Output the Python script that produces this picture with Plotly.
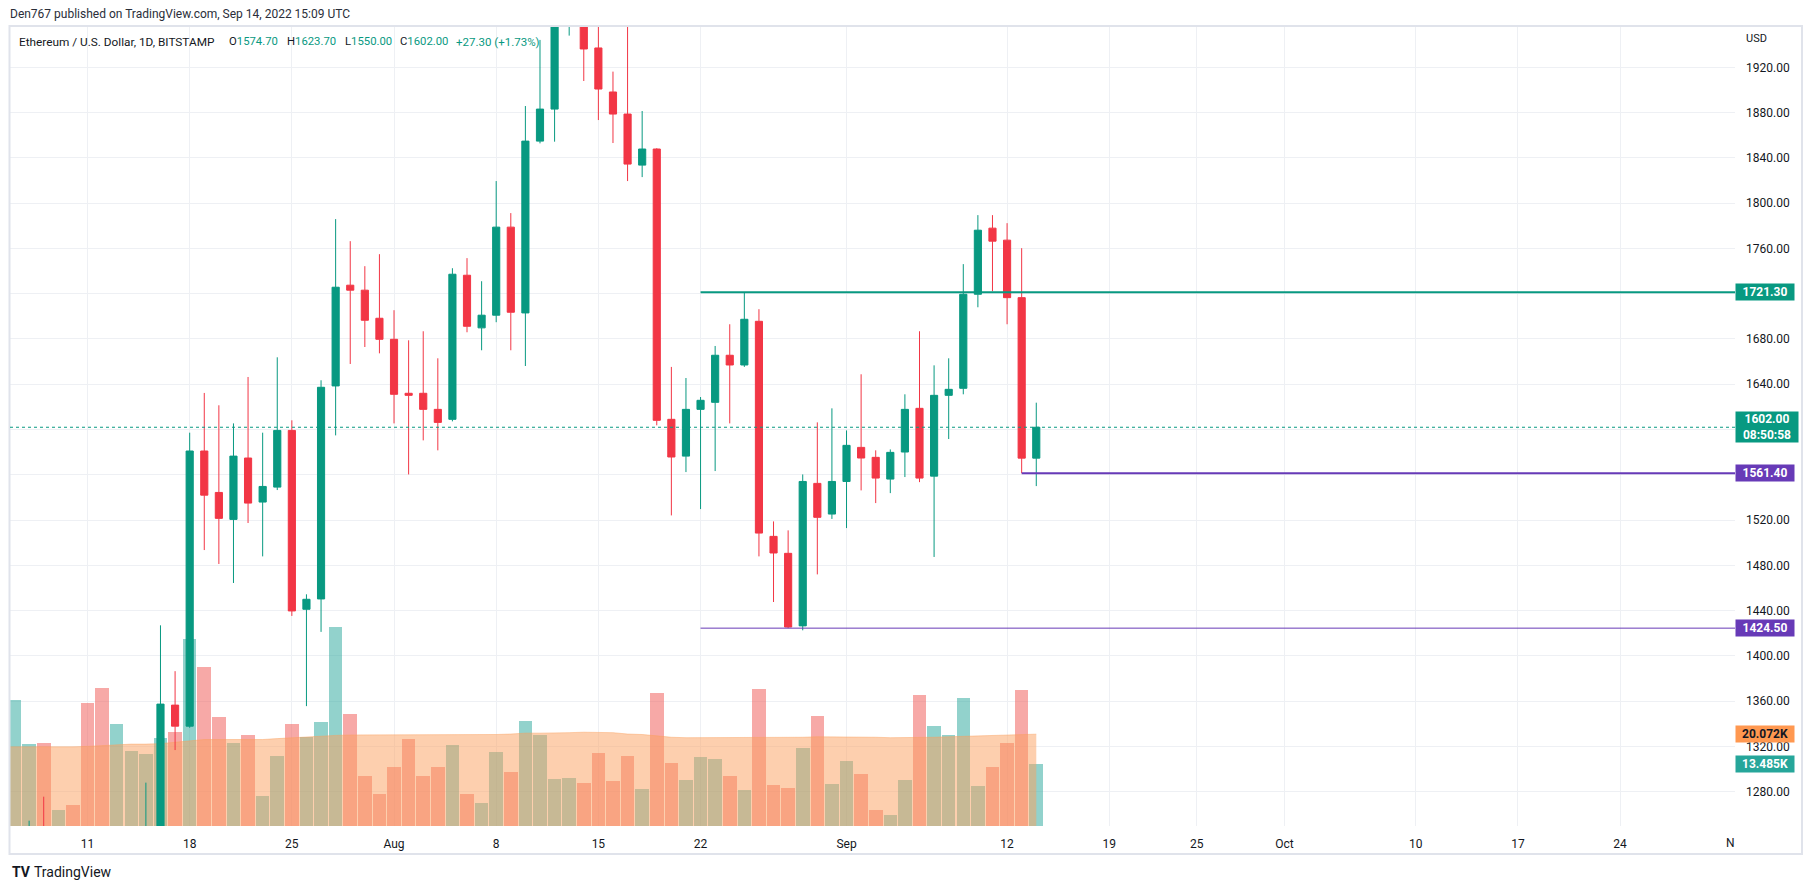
import plotly.graph_objects as go
import pandas as pd

# ---------------- data ----------------
dates = pd.date_range("2022-07-05", "2022-09-14", freq="D").strftime("%Y-%m-%d").tolist()

opens = [1150, 1135, 1186, 1237, 1216, 1218, 1167, 1097, 1038, 1110, 1192, 1232, 1356.5,
         1337.9, 1581, 1544.4, 1520.6, 1574.8, 1535.9, 1549.1, 1599.2, 1441.2, 1450.3, 1638.5,
         1727.5, 1723.1, 1698.3,
         1679.7, 1632, 1632, 1617.8, 1609, 1736.3, 1689.8, 1701, 1778.8, 1703, 1854.8, 1883.1,
         1958, 1983, 1937.1, 1898.2, 1878.7, 1833.6, 1847.8, 1609, 1576.5, 1617.8, 1624, 1665.6,
         1657, 1695.6, 1505.6, 1490.6, 1426.5, 1552.4, 1525.3,
         1554.1, 1584.2, 1575.4, 1556.2, 1580.1, 1618.7, 1558.8, 1630.2, 1636.4, 1719.5, 1777.9,
         1767.3, 1716.5, 1574.7]
highs = [1180, 1190, 1254.4, 1275.6, 1235, 1222, 1170, 1100, 1112, 1200, 1288, 1427, 1386.5,
         1597.2, 1632.3, 1621.4, 1605.4, 1646.4, 1597.2, 1663.8, 1608.1, 1454.4, 1643.5, 1785.9,
         1766.4, 1744.3, 1754.9,
         1705.4, 1678.8, 1686.8, 1662.9, 1742.5, 1751.4, 1731, 1819.5, 1791.2, 1885.8, 1944.2, 1960,
         2020, 2030, 2012, 1916.2, 1960, 1881.4, 1848.5, 1655.3, 1645.5, 1628.7, 1673.8, 1693,
         1721.3, 1706.3, 1518.8, 1510.9, 1560.3, 1606.3, 1618.7,
         1599.2, 1648.8, 1581.6, 1582.4, 1631.1, 1686.8, 1656.7, 1662.9, 1746.1, 1789.4, 1789.4,
         1782.3, 1760.2, 1623.7]
lows = [1100, 1120, 1170, 1200, 1200, 1150, 1090, 1036, 1006, 1075, 1180, 1190, 1316.8,
        1336.5, 1493.5, 1481.2, 1464.4, 1517.4, 1487.9, 1546.5, 1435.3, 1355.6, 1421.2, 1594.8,
        1657.9, 1672.9, 1667.3,
        1605.4, 1560.3, 1590.4, 1581.6, 1607.2, 1685.9, 1670, 1694.8, 1670, 1656.1, 1852.8, 1854.3,
        1948, 1907.9, 1873.4, 1853.1, 1819.5, 1823, 1603.7, 1524.1, 1562.4, 1529.7, 1563.3, 1605.4,
        1655.3, 1487.9, 1447.6, 1424.5, 1422.6, 1472, 1521,
        1512.9, 1546.2, 1535, 1543.8, 1558, 1553.5, 1487.4, 1591.6, 1631.1, 1708, 1722.2,
        1693, 1561.4, 1550]
closes = [1135, 1186, 1237, 1216, 1218, 1167, 1097, 1038, 1110, 1192, 1232, 1357.4, 1337.9,
          1581, 1542, 1521.5, 1576.5, 1535, 1549.7, 1599.2, 1439.7, 1450, 1637.3, 1725.7,
          1723.1, 1696.5, 1679.7,
          1631.1, 1630.2, 1617.8, 1606.3, 1737.2, 1691.2, 1701, 1778.8, 1703.6, 1854.8, 1883.1, 1958,
          1983, 1936.2, 1900.8, 1878.7, 1834.5, 1847.8, 1608.1, 1575.7, 1617.8, 1625.8, 1665.6, 1657,
          1697.4, 1508.5, 1490.9, 1425.5, 1554.1, 1522.4, 1554.1,
          1586, 1574.8, 1557.1, 1579.8, 1617.8, 1557.1, 1630.2, 1635.5, 1719.5, 1776.1, 1766.4,
          1716.5, 1574.7, 1602.0]
volume_k = [18.0, 27.5, 17.9, 18.1, 3.4, 4.5, 26.8, 30.1, 22.4, 16.3, 15.7, 19.2, 20.5,
            40.8, 34.7, 23.8, 18.1, 20.0, 6.5, 15.2, 22.4, 19.4, 22.7, 43.6,
            24.4, 10.9, 6.9,
            13.0, 19.0, 10.9, 12.8, 17.6, 7.1, 5.0, 16.1, 11.7, 22.9, 20.0, 10.2,
            10.6, 9.3, 15.9, 9.8, 15.2, 8.0, 29.0, 13.7, 10.0, 15.0, 14.6, 10.9,
            7.8, 29.9, 8.9, 8.4, 17.0, 24.0, 9.1,
            14.1, 11.3, 3.4, 2.3, 10.0, 28.6, 21.8, 20.0, 27.9, 8.7, 12.8,
            18.1, 29.7, 13.485]
volume_ma_k = [17.3, 17.3, 17.3, 17.2, 17.2, 17.3, 17.4, 17.6, 17.8, 17.9, 17.9, 18.0, 18.3,
               18.6, 18.9, 18.9, 18.9, 18.9, 18.9, 19.1, 19.3, 19.4, 19.6, 19.8,
               19.9, 19.9, 19.9,
               20.0, 20.0, 20.0, 19.9, 19.9, 19.9, 19.9, 20.0, 20.1, 20.3, 20.3, 20.3,
               20.4, 20.5, 20.5, 20.4, 20.1, 20.0, 19.7, 19.4, 19.3, 19.3, 19.3, 19.3,
               19.3, 19.4, 19.4, 19.4, 19.4, 19.5, 19.5,
               19.5, 19.5, 19.4, 19.3, 19.3, 19.4, 19.4, 19.5, 19.6, 19.6, 19.7,
               19.8, 20.0, 20.072]

tick_dates = ["2022-07-11", "2022-07-18", "2022-07-25", "2022-08-01", "2022-08-08", "2022-08-15",
              "2022-08-22", "2022-09-01", "2022-09-12", "2022-09-19", "2022-09-25", "2022-10-01",
              "2022-10-10", "2022-10-17", "2022-10-24"]
tick_labels = ["11", "18", "25", "Aug", "8", "15", "22", "Sep", "12", "19", "25", "Oct",
               "10", "17", "24"]
price_ticks = list(range(1280, 1921, 40))
hidden_price_ticks = [1720, 1600, 1560]   # covered by the price tags in the reference

level_prices = [1721.30, 1561.40, 1424.50]
level_starts = ["2022-08-22", "2022-09-13", "2022-08-22"]
level_colors = ["#089981", "#673AB7", "#673AB7"]
level_widths = [2, 2, 1]

last_price = 1602.00
countdown = "08:50:58"
ohlc_text = [("O", "1574.70"), ("H", "1623.70"), ("L", "1550.00"), ("C", "1602.00")]
change_text = "+27.30 (+1.73%)"
vol_last = 13.485
vol_ma_last = 20.072

# ---------------- geometry / style ----------------
W, H = 1813, 889
PL, PR, PT, PB = 10, 1735, 26, 826
x_range = ["2022-07-05 16:34", "2022-10-31 20:53"]
y_range = [1249.7, 1956.5]
vol_range = [0, (PB - PT) / 4.575]

UP, DOWN = "#089981", "#F23645"
VUP, VDOWN = "rgba(38,166,154,0.5)", "rgba(239,83,80,0.5)"
GRID = "#EEF0F4"
TXT = "#131722"
FONT = "Roboto, sans-serif"


def pxx(px):
    return (px - PL) / (PR - PL)


def pxy(py):
    return (PB - py) / (PB - PT)


vol_colors = [VUP if c >= o else VDOWN for o, c in zip(opens, closes)]
price_ticktext = ["" if t in hidden_price_ticks else f"{t:.2f}" for t in price_ticks]

fig = go.Figure()
fig.add_trace(go.Bar(x=dates, y=volume_k, marker=dict(color=vol_colors, line=dict(width=0)),
                     width=0.93 * 86400000, yaxis="y", hoverinfo="skip"))
fig.add_trace(go.Scatter(x=dates, y=volume_ma_k, mode="lines", fill="tozeroy",
                         fillcolor="rgba(251,159,93,0.5)",
                         line=dict(color="rgba(251,159,93,0.45)", width=1),
                         yaxis="y", hoverinfo="skip"))
fig.add_trace(go.Candlestick(x=dates, open=opens, high=highs, low=lows, close=closes,
                             yaxis="y2", whiskerwidth=0,
                             increasing=dict(line=dict(color=UP, width=1), fillcolor=UP),
                             decreasing=dict(line=dict(color=DOWN, width=1), fillcolor=DOWN),
                             hoverinfo="skip"))

shapes = []
# frame
shapes.append(dict(type="rect", xref="paper", yref="paper", x0=pxx(9.5), x1=pxx(1802),
                   y0=pxy(854), y1=pxy(26), line=dict(color="#E0E3EB", width=2),
                   fillcolor="rgba(0,0,0,0)", layer="above"))
# last price dotted line
shapes.append(dict(type="line", xref="paper", yref="y2", x0=0, x1=1, y0=last_price, y1=last_price,
                   line=dict(color=UP, width=1, dash="dot"), layer="above"))
for p, s, c, w in zip(level_prices, level_starts, level_colors, level_widths):
    shapes.append(dict(type="line", xref="x", yref="y2", x0=s, x1=x_range[1], y0=p, y1=p,
                       line=dict(color=c, width=w), layer="above"))

ann = []
ann.append(dict(xref="paper", yref="paper", x=pxx(8), y=pxy(14), xanchor="left", yanchor="middle",
                text="Den767 published on TradingView.com, Sep 14, 2022 15:09 UTC", showarrow=False,
                font=dict(size=12, color="#2A2E39", family=FONT)))
ly = pxy(41.7)
ann.append(dict(xref="paper", yref="paper", x=pxx(17), y=ly, xanchor="left", yanchor="middle",
                text="Ethereum / U.S. Dollar, 1D, BITSTAMP", showarrow=False,
                font=dict(size=11.8, color=TXT, family=FONT)))
for (lab, val), xp in zip(ohlc_text, [227, 285, 343, 398]):
    ann.append(dict(xref="paper", yref="paper", x=pxx(xp), y=ly, xanchor="left", yanchor="middle",
                    text=f"{lab}<span style='color:{UP}'>{val}</span>", showarrow=False,
                    font=dict(size=11.3, color=TXT, family=FONT)))
ann.append(dict(xref="paper", yref="paper", x=pxx(454), y=ly, xanchor="left", yanchor="middle",
                text=change_text, showarrow=False, font=dict(size=11.5, color=UP, family=FONT)))
ann.append(dict(xref="paper", yref="paper", x=pxx(1744), y=pxy(39), xanchor="left", yanchor="middle",
                text="USD", showarrow=False, font=dict(size=11, color=TXT, family=FONT)))
ann.append(dict(xref="paper", yref="paper", x=pxx(1730), y=pxy(843), xanchor="center", yanchor="middle",
                text="N", showarrow=False, font=dict(size=12, color=TXT, family=FONT)))


def tag(y, text, bg, fg, yref="y2", width=56, height=14):
    return dict(xref="paper", x=1, xanchor="left", yref=yref, y=y, yanchor="middle",
                text=f"<b>{text}</b>",
                showarrow=False, bgcolor=bg, font=dict(color=fg, size=12, family=FONT),
                width=width, height=height, align="center", valign="middle", borderpad=1)


for p, c in zip(level_prices, level_colors):
    ann.append(tag(p, f"{p:.2f}", c, "white"))
ann.append(tag(last_price, f"{last_price:.2f}<br>{countdown}", UP, "white", width=60, height=28))
ann.append(tag(vol_ma_last, f"{vol_ma_last:.3f}K", "#FF9850", TXT, yref="y"))
ann.append(tag(vol_last, f"{vol_last:.3f}K", "#26A69A", "white", yref="y"))

# TradingView logo / wordmark
ann.append(dict(xref="paper", yref="paper", x=pxx(10), y=pxy(871.5), xanchor="left", yanchor="middle",
                text="<b>TV</b>", showarrow=False, font=dict(size=14, color=TXT, family=FONT)))
ann.append(dict(xref="paper", yref="paper", x=pxx(32), y=pxy(871.5), xanchor="left", yanchor="middle",
                text="TradingView", showarrow=False, font=dict(size=14, color=TXT, family=FONT)))

fig.update_layout(
    width=W, height=H, autosize=False,
    margin=dict(l=PL, r=W - PR, t=PT, b=H - PB, pad=0),
    paper_bgcolor="white", plot_bgcolor="white",
    showlegend=False, boxgap=0.3, bargap=0,
    font=dict(family=FONT, size=12, color=TXT),
    xaxis=dict(type="date", range=x_range, tickvals=tick_dates, ticktext=tick_labels,
               showgrid=True, gridcolor=GRID, gridwidth=1, zeroline=False, showline=False,
               ticks="", ticklabelstandoff=9, rangeslider=dict(visible=False),
               tickfont=dict(size=12, color=TXT, family=FONT), fixedrange=True),
    yaxis=dict(range=vol_range, visible=False, fixedrange=True, showgrid=False, zeroline=False),
    yaxis2=dict(overlaying="y", side="right", anchor="x", range=y_range, tickvals=price_ticks,
                ticktext=price_ticktext, showgrid=True, gridcolor=GRID, gridwidth=1,
                zeroline=False, showline=False, ticks="", ticklabelstandoff=10,
                tickfont=dict(size=12, color=TXT, family=FONT), fixedrange=True),
    shapes=shapes, annotations=ann,
)

fig.write_html("out.html", config={"displayModeBar": False},
               post_script="document.body.style.margin='0px';document.body.style.overflow='hidden';")
